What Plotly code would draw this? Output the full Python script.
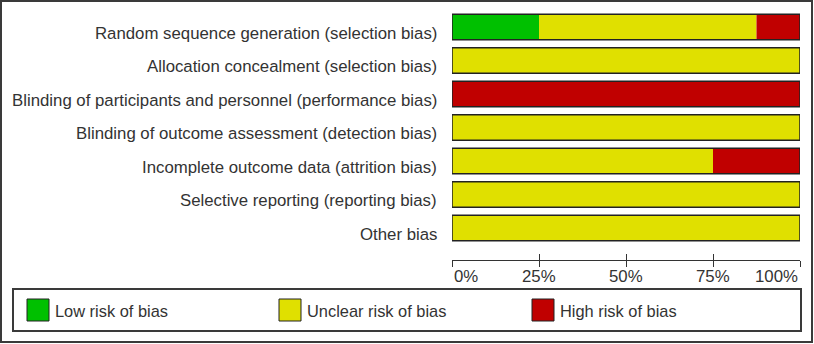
import plotly.graph_objects as go

# Risk-of-bias summary: percentage of studies per judgement, per domain
domains = [
    "Random sequence generation (selection bias)",
    "Allocation concealment (selection bias)",
    "Blinding of participants and personnel (performance bias)",
    "Blinding of outcome assessment (detection bias)",
    "Incomplete outcome data (attrition bias)",
    "Selective reporting (reporting bias)",
    "Other bias",
]
low_risk = [25, 0, 0, 0, 0, 0, 0]
unclear_risk = [62.5, 100, 0, 100, 75, 100, 100]
high_risk = [12.5, 0, 100, 0, 25, 0, 0]

series_names = ["Low risk of bias", "Unclear risk of bias", "High risk of bias"]
series_colors = ["#00C000", "#E0E000", "#C00000"]

tick_vals = [0, 25, 50, 75, 100]
tick_text = ["0%", "25%", "50%", "75%", "100%"]

# Canvas geometry (pixels)
W, H = 814, 344
ML, MR, MT, MB = 452, 14, 10, 84
PW, PH = W - ML - MR, H - MT - MB


def fx(px):
    return (px - ML) / PW


def fy(py):
    return (H - MB - py) / PH


series = [low_risk, unclear_risk, high_risk]
bases = []
running = [0.0] * len(domains)
for vals in series:
    bases.append(list(running))
    running = [r + v for r, v in zip(running, vals)]
totals = running

fig = go.Figure()
for name, color, vals, base in zip(series_names, series_colors, series, bases):
    fig.add_trace(go.Bar(
        y=domains, x=vals, base=base, orientation="h", name=name,
        marker=dict(color=color, line=dict(width=0)),
        width=0.76, showlegend=False, hoverinfo="skip",
    ))

# Outline around each complete bar
fig.add_trace(go.Bar(
    y=domains, x=totals, base=[0] * len(domains), orientation="h",
    marker=dict(color="rgba(0,0,0,0)", line=dict(color="#222222", width=1.5)),
    width=0.76, showlegend=False, hoverinfo="skip",
))

slot = 33.5
first_center = 27
top_r = -(first_center - MT) / slot
bot_r = (H - MB - first_center) / slot

fig.update_layout(
    width=W, height=H,
    margin=dict(l=ML, r=MR, t=MT, b=MB, pad=0),
    barmode="overlay",
    paper_bgcolor="white", plot_bgcolor="white",
    font=dict(family="Liberation Sans, Arial, sans-serif", size=16, color="#333333"),
    xaxis=dict(
        range=[0, 100], tickvals=tick_vals, showticklabels=False,
        ticks="outside", ticklen=6, tickwidth=1, tickcolor="#333333",
        showline=True, linecolor="#333333", linewidth=1,
        showgrid=False, zeroline=False, fixedrange=True,
    ),
    xaxis2=dict(
        range=[0, 100], tickvals=tick_vals, showticklabels=False,
        ticks="inside", ticklen=6, tickwidth=1, tickcolor="#333333",
        overlaying="x", side="bottom", anchor="y",
        showline=False, showgrid=False, zeroline=False, fixedrange=True,
    ),
    yaxis=dict(
        type="category", categoryorder="array", categoryarray=domains,
        range=[bot_r, top_r], showgrid=False, zeroline=False,
        ticks="", showline=False, showticklabels=False, fixedrange=True,
    ),
)

# invisible point that keeps the secondary tick axis drawn
fig.add_trace(go.Scatter(x=[0], y=[domains[0]], xaxis="x2", mode="markers",
                         marker=dict(opacity=0), showlegend=False, hoverinfo="skip"))

annotations = []
# domain labels, right-aligned left of the bars, sitting slightly low
for d in domains:
    annotations.append(dict(
        x=fx(439), xref="paper", y=d, yref="y", text=d, showarrow=False,
        xanchor="right", yanchor="middle", yshift=-6,
        font=dict(size=16.8, color="#333333"),
    ))

for v, t in zip(tick_vals, tick_text):
    anchor = "left" if v == tick_vals[0] else ("right" if v == tick_vals[-1] else "center")
    annotations.append(dict(
        x=v, xref="x", y=fy(276), yref="paper", text=t, showarrow=False,
        xanchor=anchor, yanchor="middle",
        font=dict(size=16.8, color="#333333"),
    ))

shapes = [
    # outer frame
    dict(type="rect", xref="paper", yref="paper",
         x0=fx(1), x1=fx(812), y0=fy(1), y1=fy(342),
         line=dict(color="#3a3a3a", width=2), fillcolor="rgba(0,0,0,0)", layer="above"),
    # legend frame
    dict(type="rect", xref="paper", yref="paper",
         x0=fx(13), x1=fx(801), y0=fy(289), y1=fy(331),
         line=dict(color="#3a3a3a", width=2), fillcolor="rgba(0,0,0,0)"),
]

key_left = [27, 279, 532]
for name, color, kx in zip(series_names, series_colors, key_left):
    shapes.append(dict(type="rect", xref="paper", yref="paper",
                       x0=fx(kx), x1=fx(kx + 22), y0=fy(299), y1=fy(321),
                       line=dict(color="#222222", width=1), fillcolor=color))
    annotations.append(dict(
        x=fx(kx + 26), xref="paper", y=fy(311), yref="paper", text=name,
        showarrow=False, xanchor="left", yanchor="middle",
        font=dict(size=16.4, color="#333333"),
    ))

fig.update_layout(shapes=shapes, annotations=annotations)

fig.write_html("out.html")
